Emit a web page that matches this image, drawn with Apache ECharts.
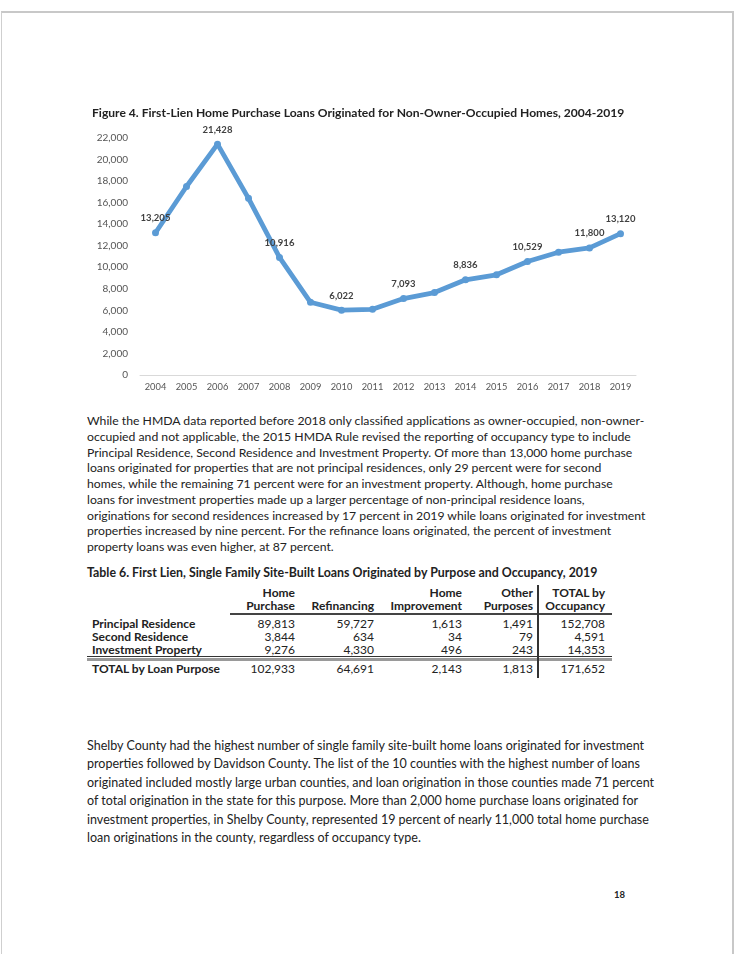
<!DOCTYPE html>
<html><head><meta charset="utf-8">
<script src="https://cdn.jsdelivr.net/npm/echarts/dist/echarts.min.js"></script>
<style>
html,body{margin:0;padding:0;background:#fff;}
body{width:742px;height:954px;position:relative;overflow:hidden;font-family:Lato,'Open Sans',sans-serif;color:#222;}
#page{position:absolute;left:1px;top:11px;width:730px;height:960px;border-left:1px solid #cfcfcf;border-top:2px solid #c8c8c8;border-right:2px solid #c8c8c8;}
#chart{position:absolute;left:0;top:0;width:742px;height:400px;}
.ln{position:absolute;white-space:nowrap;left:87px;line-height:16px;height:16px;}
.b{font-weight:bold;}
.cell{position:absolute;white-space:nowrap;line-height:14px;height:14px;font-size:12px;}
.rule{position:absolute;}
</style></head>
<body>
<div id="page"></div>
<div id="chart"></div>
<div id="doc"></div>
<script>
// ---------- data ----------
const figureTitle = "Figure 4. First-Lien Home Purchase Loans Originated for Non-Owner-Occupied Homes, 2004-2019";
const years = ["2004","2005","2006","2007","2008","2009","2010","2011","2012","2013","2014","2015","2016","2017","2018","2019"];
const loans = [13205, 17500, 21428, 16400, 10916, 6750, 6022, 6100, 7093, 7650, 8836, 9300, 10529, 11400, 11800, 13120];
const labeledYears = ["2004","2006","2008","2010","2012","2014","2016","2018","2019"];

const para1 = [
 "While the HMDA data reported before 2018 only classified applications as owner-occupied, non-owner-",
 "occupied and not applicable, the 2015 HMDA Rule revised the reporting of occupancy type to include",
 "Principal Residence, Second Residence and Investment Property. Of more than 13,000 home purchase",
 "loans originated for properties that are not principal residences, only 29 percent were for second",
 "homes, while the remaining 71 percent were for an investment property. Although, home purchase",
 "loans for investment properties made up a larger percentage of non-principal residence loans,",
 "originations for second residences increased by 17 percent in 2019 while loans originated for investment",
 "properties increased by nine percent. For the refinance loans originated, the percent of investment",
 "property loans was even higher, at 87 percent."
];
const tableTitle = "Table 6. First Lien, Single Family Site-Built Loans Originated by Purpose and Occupancy, 2019";
const colHead1 = ["Home", "", "Home", "Other", "TOTAL by"];
const colHead2 = ["Purchase", "Refinancing", "Improvement", "Purposes", "Occupancy"];
const rowNames = ["Principal Residence", "Second Residence", "Investment Property", "TOTAL by Loan Purpose"];
const tableValues = [
 ["89,813", "59,727", "1,613", "1,491", "152,708"],
 ["3,844", "634", "34", "79", "4,591"],
 ["9,276", "4,330", "496", "243", "14,353"],
 ["102,933", "64,691", "2,143", "1,813", "171,652"]
];
const para2 = [
 "Shelby County had the highest number of single family site-built home loans originated for investment",
 "properties followed by Davidson County. The list of the 10 counties with the highest number of loans",
 "originated included mostly large urban counties, and loan origination in those counties made 71 percent",
 "of total origination in the state for this purpose. More than 2,000 home purchase loans originated for",
 "investment properties, in Shelby County, represented 19 percent of nearly 11,000 total home purchase",
 "loan originations in the county, regardless of occupancy type."
];
const pageNumber = "18";

// ---------- document text ----------
const doc = document.getElementById('doc');
function addLine(text, y, cls, size){
  const d = document.createElement('div');
  d.className = 'ln ' + (cls||'');
  d.style.top = (y - 8) + 'px';
  d.style.fontSize = size + 'px';
  d.textContent = text;
  doc.appendChild(d);
  return d;
}
function fitSize(text, bold, target){
  const c = document.createElement('canvas').getContext('2d');
  c.font = (bold?'bold ':'') + '20px Lato';
  return 20 * target / c.measureText(text).width;
}
const p1Size = fitSize(para1[0], false, 558);
para1.forEach((t,i)=>addLine(t, 421 + i*15.75, '', p1Size));
const ttSize = fitSize(tableTitle, true, 511);
addLine(tableTitle, 573, 'b', ttSize);
const p2Size = fitSize(para2[0], false, 559);
para2.forEach((t,i)=>addLine(t, 746 + i*18.4, '', p2Size));
const pn = addLine(pageNumber, 895, 'b', 9.5);
pn.style.left = '614px';

// ---------- table ----------
const colRight = [295, 374, 462, 533, 605];
const headY = [593, 606];
const rowY = [624, 637, 650, 669];
function cell(text, xRight, y, bold, xLeft){
  const d = document.createElement('div');
  d.className = 'cell' + (bold?' b':'');
  d.style.top = (y - 7) + 'px';
  if (xLeft !== undefined) { d.style.left = xLeft + 'px'; }
  else { d.style.right = (742 - xRight) + 'px'; }
  d.textContent = text;
  doc.appendChild(d);
}
colHead1.forEach((t,i)=>{ if(t) cell(t, colRight[i], headY[0], true); });
colHead2.forEach((t,i)=>cell(t, colRight[i], headY[1], true));
rowNames.forEach((t,r)=>{
  cell(t, 0, rowY[r], true, 92);
  tableValues[r].forEach((v,c)=>cell(v, colRight[c], rowY[r], false));
});
function rule(x, y, w, h, color){
  const d = document.createElement('div');
  d.className = 'rule';
  Object.assign(d.style, {left:x+'px', top:y+'px', width:w+'px', height:h+'px', background:color});
  doc.appendChild(d);
}
rule(230, 613, 382, 1.5, '#444');
rule(87, 656, 525, 1.2, '#333');
rule(87, 658, 525, 3, '#9a9a9a');
rule(537, 585, 1.5, 93, '#333');

// ---------- chart ----------
const chart = echarts.init(document.getElementById('chart'), null, {renderer:'canvas'});
const fmt = v => Number(v).toLocaleString('en-US');
chart.setOption({
  animation:false,
  title:{
    text:figureTitle, left:87, top:102,
    textStyle:{fontFamily:'Lato', fontWeight:'bold', fontSize:fitSize(figureTitle, true, 533), color:'#222'}
  },
  grid:{left:140, right:106, top:138, height:237, containLabel:false},
  xAxis:{
    type:'category', data:years, boundaryGap:true,
    axisLine:{lineStyle:{color:'#d9d9d9', width:1}},
    axisTick:{show:false},
    axisLabel:{fontFamily:'Lato', fontSize:9.3, color:'#555', margin:7, interval:0}
  },
  yAxis:{
    type:'value', min:0, max:22000, interval:2000,
    axisLine:{show:false}, axisTick:{show:false}, splitLine:{show:false},
    axisLabel:{fontFamily:'Lato', fontSize:10, color:'#555', margin:12, formatter:fmt}
  },
  series:[{
    type:'line',
    data: loans.map((v,i)=>({value:v, label:{show: labeledYears.includes(years[i])}})),
    symbol:'circle', symbolSize:7,
    lineStyle:{color:'#5b9bd5', width:4.8},
    itemStyle:{color:'#5b9bd5'},
    label:{position:'top', distance:6, fontFamily:'Lato', fontWeight:'bold', fontSize:9.5, color:'#404040', formatter:p=>fmt(p.value)}
  }]
});
</script>
</body></html>
